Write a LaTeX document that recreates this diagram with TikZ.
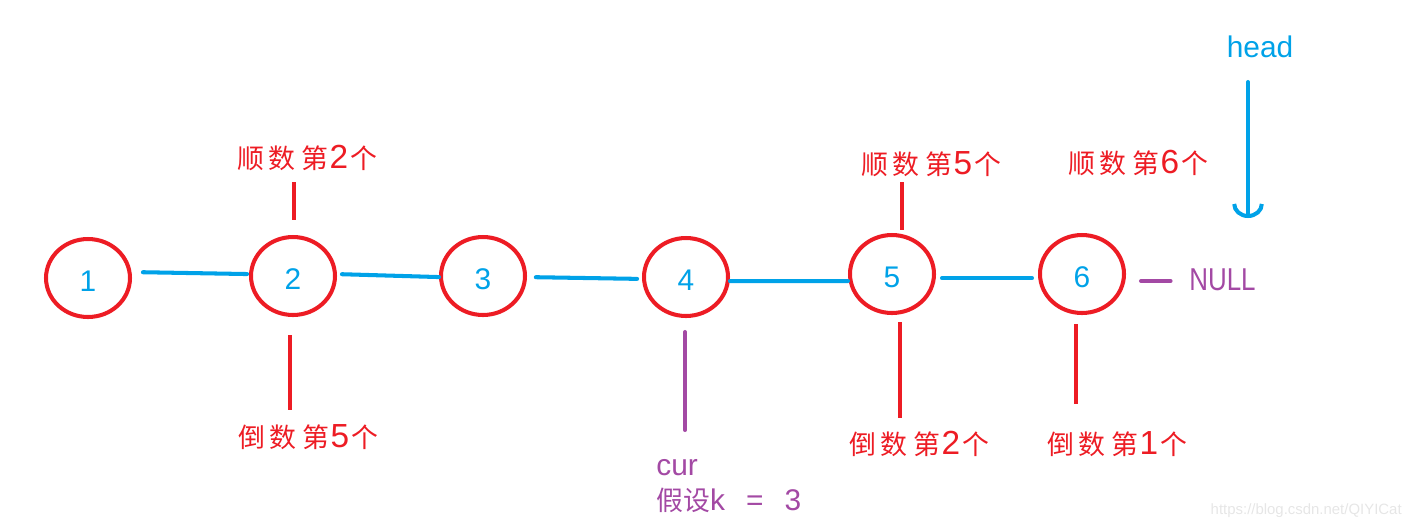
\documentclass[tikz,border=0pt]{standalone}
\usepackage{fontspec}
\setmainfont{Liberation Sans}
\newfontfamily\cjk[Scale=0.9]{Noto Sans CJK SC}
\usetikzlibrary{shapes.geometric,arrows.meta}
\definecolor{pred}{HTML}{ED1C24}
\definecolor{pblue}{HTML}{00A2E8}
\definecolor{ppurple}{HTML}{A349A4}
\definecolor{wm}{HTML}{E6E6E6}
\newcommand{\lbl}[4]{{\cjk #1}\hspace{2.6pt}{\cjk #2}\hspace{3.2pt}{\cjk #3}\hspace{1pt}{\fontsize{19}{20}\selectfont #4}\hspace{1pt}{\cjk 个}}
\begin{document}
\begin{tikzpicture}[x=0.02cm,y=-0.02cm,
  listnode/.style={ellipse, draw=pred, line width=2.3pt, minimum width=1.68cm,
    minimum height=1.56cm, inner sep=0pt, text=pblue, text height=15.4pt, text depth=0pt,
    font=\fontsize{17}{20}\selectfont},
  link/.style={draw=pblue, line width=2.3pt, line cap=round},
  redtick/.style={draw=pred, line width=2.3pt},
  purpletick/.style={draw=ppurple, line width=2.3pt, line cap=round},
  lab/.style={text=pred, font=\fontsize{17}{20}\selectfont, inner sep=0pt},
  purplelab/.style={text=ppurple, font=\fontsize{17}{20}\selectfont, inner sep=0pt, anchor=west},
]
\useasboundingbox (0,0) rectangle (1413,529);

% list nodes
\node[listnode] (n1) at (88,278) {1};
\node[listnode] (n2) at (293,276) {2};
\node[listnode] (n3) at (483,276) {3};
\node[listnode] (n4) at (686,277) {4};
\node[listnode] (n5) at (892,274) {5};
\node[listnode] (n6) at (1082,274) {6};

% links
\draw[link, shorten <=6.2pt, shorten >=1.1pt] ([yshift=3.4pt]n1.east) -- ([yshift=1.1pt]n2.west);
\draw[link, shorten <=2.8pt] ([yshift=1.1pt]n2.east) -- ([yshift=-0.6pt]n3.west);
\draw[link, shorten <=5pt, shorten >=2.8pt] ([yshift=-0.6pt]n3.east) -- ([yshift=-1.1pt]n4.west);
\draw[link] ([yshift=-2.3pt]n4.east) -- ([yshift=-4pt]n5.west);
\draw[link, shorten <=3.4pt, shorten >=3.4pt] ([yshift=-2.3pt]n5.east) -- ([yshift=-2.3pt]n6.west);

% labels
\node[lab] (t2) at (307,158) {\lbl{顺}{数}{第}{2}};
\node[lab] (b2) at (308,437) {\lbl{倒}{数}{第}{5}};
\node[lab] (t5) at (931,164) {\lbl{顺}{数}{第}{5}};
\node[lab] (t6) at (1138,163) {\lbl{顺}{数}{第}{6}};
\node[lab] (b5) at (919,444) {\lbl{倒}{数}{第}{2}};
\node[lab] (b6) at (1117,444) {\lbl{倒}{数}{第}{1}};

% ticks
\coordinate (t2a) at (294,182); \coordinate (t2b) at (294,220);
\coordinate (b2a) at (290,335); \coordinate (b2b) at (290,410);
\coordinate (t5a) at (902,182); \coordinate (t5b) at (902,230);
\coordinate (b5a) at (900,322); \coordinate (b5b) at (900,418);
\coordinate (b6a) at (1076,324); \coordinate (b6b) at (1076,404);
\draw[redtick] (t2a) -- (t2b);
\draw[redtick] (b2a) -- (b2b);
\draw[redtick] (t5a) -- (t5b);
\draw[redtick] (b5a) -- (b5b);
\draw[redtick] (b6a) -- (b6b);

% cur
\coordinate (c4a) at (685,332); \coordinate (c4b) at (685,430);
\draw[purpletick] (c4a) -- (c4b);
\node[purplelab] (cur) at (656,468) {cur};
\node[purplelab] (kk) at (656,500) {{\cjk 假设}k\hspace{12pt}=\hspace{12pt}3};

% NULL
\node[text=ppurple, font=\fontsize{18}{20}\selectfont, inner sep=0pt, anchor=west, xscale=0.82] (null) at (1189,280) {NULL};
\coordinate (nd) at (1141,281);
\draw[purpletick, shorten >=10.5pt] (nd) -- (null.west |- nd);

% head
\node[text=pblue, font=\fontsize{17}{20}\selectfont, inner sep=0pt] (head) at (1260,47) {head};
\coordinate (ha) at (1248,82); \coordinate (hb) at (1248,218);
\draw[draw=pblue, line width=2.3pt, line cap=round, -{Arc Barb[width=18pt,length=8pt]}] (ha) -- (hb);

% watermark
\node[text=wm, font=\fontsize{8.5}{10}\selectfont, inner sep=0pt, anchor=east] (wmk) at (1402,511) {https://blog.csdn.net/QIYICat};
\end{tikzpicture}
\end{document}
